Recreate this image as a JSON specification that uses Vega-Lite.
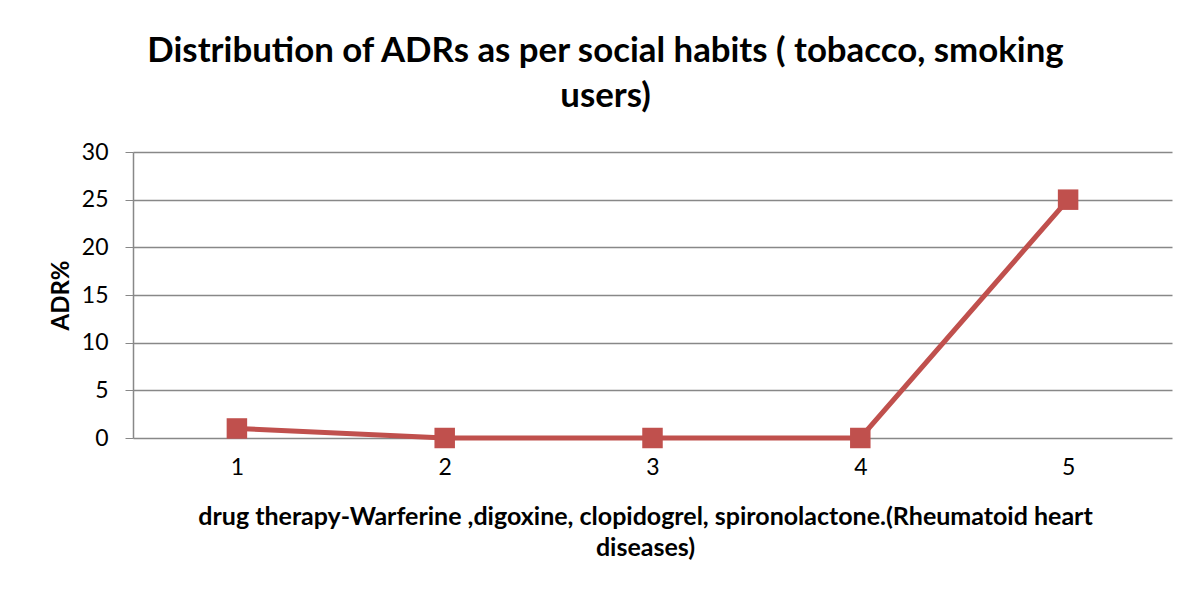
{
  "$schema": "https://vega.github.io/schema/vega-lite/v6.json",
  "width": 1039,
  "height": 286,
  "autosize": {"type": "none"},
  "padding": {"left": 133, "top": 152, "right": 25, "bottom": 153},
  "background": "white",
  "view": {"stroke": null},
  "title": {
    "text": ["Distribution of ADRs as per social habits ( tobacco, smoking", "users)"],
    "anchor": "middle",
    "dx": -47,
    "offset": 26,
    "font": "Lato",
    "fontSize": 34.8,
    "fontWeight": "bold",
    "color": "black",
    "lineHeight": 45
  },
  "data": {
    "values": [
      {"drug": "1", "adr": 1},
      {"drug": "2", "adr": 0},
      {"drug": "3", "adr": 0},
      {"drug": "4", "adr": 0},
      {"drug": "5", "adr": 25}
    ]
  },
  "encoding": {
    "x": {
      "field": "drug",
      "type": "ordinal",
      "scale": {"type": "point", "padding": 0.5},
      "axis": {
        "title": ["drug therapy-Warferine ,digoxine, clopidogrel, spironolactone.(Rheumatoid heart", "diseases)"],
        "titleFont": "Lato",
        "titleFontSize": 25,
        "titleFontWeight": "bold",
        "titleColor": "black",
        "titleLineHeight": 31,
        "titlePadding": 25,
        "titleX": 512,
        "labelFont": "Lato",
        "labelFontSize": 23,
        "labelColor": "black",
        "labelAngle": 0,
        "labelPadding": 18,
        "domain": false,
        "ticks": false,
        "grid": false
      }
    },
    "y": {
      "field": "adr",
      "type": "quantitative",
      "scale": {"domain": [0, 30], "nice": false},
      "axis": {
        "title": "ADR%",
        "titleFont": "Lato",
        "titleFontSize": 24,
        "titleFontWeight": "bold",
        "titleColor": "black",
        "titlePadding": 8,
        "values": [0, 5, 10, 15, 20, 25, 30],
        "labelFont": "Lato",
        "labelFontSize": 23,
        "labelColor": "black",
        "labelPadding": 17,
        "tickSize": 8,
        "tickColor": "#888888",
        "domainColor": "#888888",
        "domainWidth": 1.5,
        "grid": true,
        "gridColor": "#888888",
        "gridWidth": 1.5
      }
    }
  },
  "layer": [
    {"mark": {"type": "line", "color": "#C0504D", "strokeWidth": 5}},
    {"mark": {"type": "point", "shape": "square", "filled": true, "opacity": 1, "color": "#C0504D", "size": 420}}
  ]
}
